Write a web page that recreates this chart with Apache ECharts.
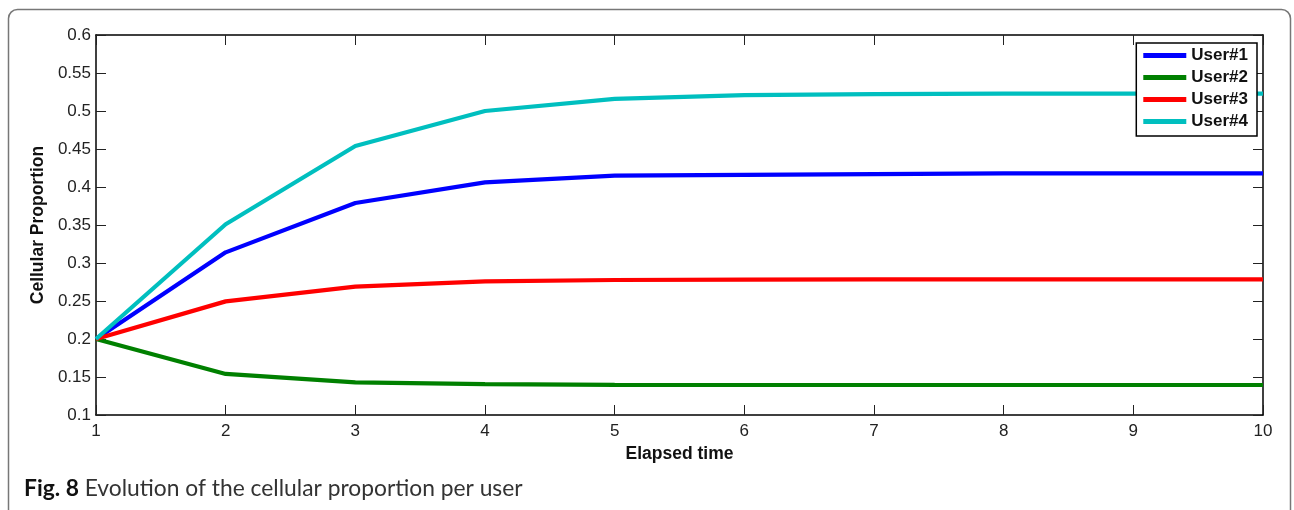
<!DOCTYPE html>
<html>
<head>
<meta charset="utf-8">
<script src="https://cdn.jsdelivr.net/npm/echarts@6/dist/echarts.min.js"></script>
<style>
html,body{margin:0;padding:0;background:#fff;}
#chart{width:1294px;height:510px;}
</style>
</head>
<body>
<div id="chart"></div>
<script>
var elapsedTime = [1, 2, 3, 4, 5, 6, 7, 8, 9, 10];
var user1 = [0.2, 0.314, 0.379, 0.406, 0.415, 0.416, 0.417, 0.418, 0.418, 0.418];
var user2 = [0.2, 0.154, 0.143, 0.1405, 0.1397, 0.1395, 0.1395, 0.1395, 0.1395, 0.1395];
var user3 = [0.2, 0.2495, 0.269, 0.2757, 0.2776, 0.2782, 0.2784, 0.2785, 0.2785, 0.2785];
var user4 = [0.2, 0.351, 0.454, 0.5, 0.516, 0.521, 0.5222, 0.5228, 0.5228, 0.5228];
var seriesNames = ['User#1', 'User#2', 'User#3', 'User#4'];
var seriesColors = ['#0000FF', '#008000', '#FF0000', '#00BFBF'];
var xTicks = [1, 10, 1];
var yTicks = [0.1, 0.6, 0.05];
var captionBold = 'Fig. 8';
var captionText = ' Evolution of the cellular proportion per user';

function pairs(vals) {
  return elapsedTime.map(function (x, i) { return [x, vals[i]]; });
}
var allVals = [user1, user2, user3, user4];

var chart = echarts.init(document.getElementById('chart'), null, {renderer: 'canvas'});
var axisFont = '"Liberation Sans", Arial, Helvetica, sans-serif';
var capFont = 'Lato, "Open Sans", sans-serif';
var lineStyleAxis = {color: '#000', width: 1.5};
var tickStyle = {color: '#222', width: 1};

var option = {
  animation: false,
  backgroundColor: '#fff',
  graphic: [{
    type: 'rect',
    shape: {x: 8.5, y: 9.5, width: 1282, height: 640, r: 9},
    style: {fill: 'none', stroke: '#777', lineWidth: 1.5},
    silent: true,
    z: -1
  }],
  title: {
    left: 19,
    top: 472,
    text: '{b|' + captionBold + '}{n|' + captionText + '}',
    textStyle: {
      rich: {
        b: {fontFamily: capFont, fontWeight: 'bold', fontSize: 22.8, color: '#111'},
        n: {fontFamily: capFont, fontWeight: 'normal', fontSize: 22.8, color: '#333'}
      }
    }
  },
  grid: {left: 96, right: 31, top: 35, bottom: 95, containLabel: false},
  legend: {
    orient: 'vertical',
    right: 37,
    top: 43,
    z: 20,
    data: seriesNames,
    icon: 'rect',
    itemWidth: 43,
    itemHeight: 5,
    itemGap: 5,
    padding: [4, 9, 6, 7],
    backgroundColor: '#fff',
    borderColor: '#000',
    borderWidth: 1.5,
    borderRadius: 0,
    textStyle: {fontFamily: axisFont, fontWeight: 'bold', fontSize: 17, color: '#111', lineHeight: 17}
  },
  xAxis: [{
    type: 'value',
    min: xTicks[0], max: xTicks[1], interval: xTicks[2],
    position: 'bottom',
    name: 'Elapsed time',
    nameLocation: 'middle',
    nameGap: 30,
    nameTextStyle: {fontFamily: axisFont, fontWeight: 'bold', fontSize: 17.5, color: '#111'},
    axisLine: {show: true, onZero: false, lineStyle: lineStyleAxis},
    axisTick: {show: true, inside: true, length: 10, lineStyle: tickStyle},
    axisLabel: {fontFamily: axisFont, fontSize: 17, color: '#222', margin: 8},
    splitLine: {show: false}
  }, {
    type: 'value',
    min: xTicks[0], max: xTicks[1], interval: xTicks[2],
    position: 'top',
    axisLine: {show: true, onZero: false, lineStyle: lineStyleAxis},
    axisTick: {show: true, inside: true, length: 10, lineStyle: tickStyle},
    axisLabel: {show: false},
    splitLine: {show: false}
  }],
  yAxis: [{
    type: 'value',
    min: yTicks[0], max: yTicks[1], interval: yTicks[2],
    position: 'left',
    name: 'Cellular Proportion',
    nameLocation: 'middle',
    nameGap: 49,
    nameTextStyle: {fontFamily: axisFont, fontWeight: 'bold', fontSize: 17.5, color: '#111'},
    axisLine: {show: true, onZero: false, lineStyle: lineStyleAxis},
    axisTick: {show: true, inside: true, length: 10, lineStyle: tickStyle},
    axisLabel: {fontFamily: axisFont, fontSize: 17, color: '#222', margin: 5,
      formatter: function (v) { return String(Math.round(v * 100) / 100); }},
    splitLine: {show: false}
  }, {
    type: 'value',
    min: yTicks[0], max: yTicks[1], interval: yTicks[2],
    position: 'right',
    axisLine: {show: true, onZero: false, lineStyle: lineStyleAxis},
    axisTick: {show: true, inside: true, length: 10, lineStyle: tickStyle},
    axisLabel: {show: false},
    splitLine: {show: false}
  }],
  series: seriesNames.map(function (name, i) {
    return {
      name: name,
      type: 'line',
      xAxisIndex: 0,
      yAxisIndex: 0,
      data: pairs(allVals[i]),
      showSymbol: false,
      symbol: 'none',
      smooth: false,
      color: seriesColors[i],
      lineStyle: {width: 4.2, color: seriesColors[i]},
      z: 2
    };
  })
};
chart.setOption(option);
</script>
</body>
</html>
